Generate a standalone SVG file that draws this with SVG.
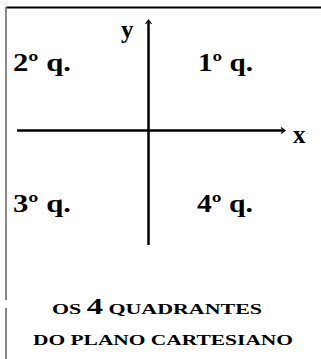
<svg xmlns="http://www.w3.org/2000/svg" width="321" height="359" viewBox="0 0 321 359">
<style>
.lbl{font-family:"Liberation Serif","Times New Roman",serif;font-weight:bold;fill:#000}
.q{font-size:25px}
.cap{font-size:15.5px}
.axis{stroke:#000;stroke-width:2.5;fill:none}
.head{stroke:#000;stroke-width:1.2;fill:none}
</style>
<rect width="321" height="359" fill="#fff"/>
<g id="frame">
<line x1="6" y1="7.5" x2="321" y2="7.5" stroke="#000" stroke-width="2"/>
<line x1="6" y1="7" x2="6" y2="300" stroke="#888" stroke-width="2"/>
<line x1="6" y1="308" x2="6" y2="359" stroke="#888" stroke-width="2"/>
</g>
<g id="connectors">
<line class="axis" x1="148.5" y1="21" x2="148.5" y2="245"/>
<path class="head" d="M145.5,24 L148.5,20 L151.5,24"/>
<line class="axis" x1="17" y1="130.5" x2="284" y2="130.5"/>
<path class="head" d="M281,127.5 L285,130.5 L281,133.5"/>
</g>
<g id="axis-y"><text class="lbl q" x="121" y="38">y</text></g>
<g id="axis-x"><text class="lbl q" x="293" y="143">x</text></g>
<g id="q2"><text class="lbl q" x="13" y="71" textLength="58" lengthAdjust="spacingAndGlyphs">2º q.</text></g>
<g id="q1"><text class="lbl q" x="198" y="71" textLength="55" lengthAdjust="spacingAndGlyphs">1º q.</text></g>
<g id="q3"><text class="lbl q" x="13" y="212" textLength="58" lengthAdjust="spacingAndGlyphs">3º q.</text></g>
<g id="q4"><text class="lbl q" x="197" y="212" textLength="56" lengthAdjust="spacingAndGlyphs">4º q.</text></g>
<g id="title">
<text class="lbl cap" x="52" y="314" textLength="210" lengthAdjust="spacingAndGlyphs">OS <tspan font-size="23">4</tspan> QUADRANTES</text>
<text class="lbl cap" x="33" y="345" textLength="260" lengthAdjust="spacingAndGlyphs">DO PLANO CARTESIANO</text>
</g>
</svg>
